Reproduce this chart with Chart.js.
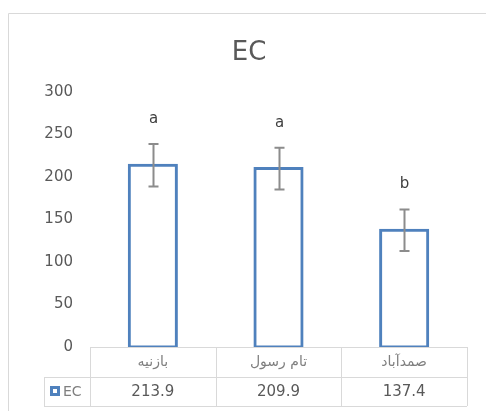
<!DOCTYPE html>
<html>
<head>
<meta charset="utf-8">
<script src="https://cdn.jsdelivr.net/npm/chart.js@4/dist/chart.umd.min.js"></script>
<style>
  body { margin: 0; background: #fff; }
  canvas { display: block; }
</style>
</head>
<body>
<canvas id="ecChart" width="486" height="411"></canvas>
<script>
const categories = ['بازنیه', 'تام رسول', 'صمدآباد'];
const ecValues = [213.9, 209.9, 137.4];
const ecErrors = [25, 24.5, 24.5];
const groupLetters = ['a', 'a', 'b'];
const seriesName = 'EC';

const BLUE = '#4f81bd';
const GRID = '#d9d9d9';
const FONT = 'DejaVu Sans';

// error bars, letters, data table and frame drawn after the bars
const extras = {
  id: 'extras',
  afterDatasetsDraw(chart) {
    const ctx = chart.ctx;
    const x = chart.scales.x;
    const y = chart.scales.y;
    const area = chart.chartArea;
    const colW = (area.right - area.left) / categories.length;

    ctx.save();

    // outer frame
    ctx.strokeStyle = GRID;
    ctx.lineWidth = 1;
    ctx.beginPath();
    ctx.moveTo(8.5, 411);
    ctx.lineTo(8.5, 13.5);
    ctx.lineTo(486, 13.5);
    ctx.stroke();

    // title
    ctx.fillStyle = '#595959';
    ctx.font = '26px ' + FONT;
    ctx.textAlign = 'center';
    ctx.textBaseline = 'alphabetic';
    ctx.fillText(seriesName, 249, 60);

    // error bars + letters
    ecValues.forEach((v, i) => {
      const cx = Math.round(x.getPixelForValue(i)) + 0.5;
      const top = y.getPixelForValue(v + ecErrors[i]);
      const bot = y.getPixelForValue(v - ecErrors[i]);
      ctx.strokeStyle = '#8c8c8c';
      ctx.lineWidth = 2;
      ctx.beginPath();
      ctx.moveTo(cx, top); ctx.lineTo(cx, bot);
      ctx.moveTo(cx - 5, top); ctx.lineTo(cx + 5, top);
      ctx.moveTo(cx - 5, bot); ctx.lineTo(cx + 5, bot);
      ctx.stroke();

      ctx.fillStyle = '#404040';
      ctx.font = '15px ' + FONT;
      ctx.textAlign = 'center';
      ctx.textBaseline = 'alphabetic';
      ctx.fillText(groupLetters[i], cx, top - 21);
    });

    // data table
    const t0 = area.bottom;
    const t1 = t0 + 30;
    const t2 = t1 + 29;
    ctx.strokeStyle = GRID;
    ctx.lineWidth = 1;
    ctx.beginPath();
    ctx.moveTo(area.left, t0 + 0.5); ctx.lineTo(area.right, t0 + 0.5);
    ctx.moveTo(44, t1 + 0.5); ctx.lineTo(area.right, t1 + 0.5);
    ctx.moveTo(44, t2 + 0.5); ctx.lineTo(area.right, t2 + 0.5);
    ctx.moveTo(44.5, t1); ctx.lineTo(44.5, t2);
    for (let i = 0; i <= categories.length; i++) {
      const lx = Math.round(area.left + i * colW) + 0.5;
      ctx.moveTo(lx, t0); ctx.lineTo(lx, t2);
    }
    ctx.stroke();

    ctx.textAlign = 'center';
    ctx.textBaseline = 'middle';
    categories.forEach((c, i) => {
      const cx = x.getPixelForValue(i);
      ctx.fillStyle = '#7f7f7f';
      ctx.font = '14px ' + FONT;
      ctx.fillText(c, cx, (t0 + t1) / 2);
      ctx.fillStyle = '#595959';
      ctx.font = '15px ' + FONT;
      ctx.fillText(ecValues[i].toFixed(1), cx, (t1 + t2) / 2 + 1);
    });

    // legend key
    ctx.fillStyle = BLUE;
    ctx.fillRect(50, 386, 10, 10);
    ctx.fillStyle = '#ffffff';
    ctx.fillRect(53, 389, 4, 4);
    ctx.fillStyle = '#7f7f7f';
    ctx.font = '14px ' + FONT;
    ctx.textAlign = 'left';
    ctx.fillText(seriesName, 63, (t1 + t2) / 2 + 1);

    ctx.restore();
  }
};

new Chart(document.getElementById('ecChart'), {
  type: 'bar',
  data: {
    labels: categories,
    datasets: [{
      label: seriesName,
      data: ecValues,
      backgroundColor: '#ffffff',
      borderColor: BLUE,
      borderWidth: 3,
      borderSkipped: false,
      inflateAmount: 1.5,
      categoryPercentage: 1,
      barPercentage: 0.375
    }]
  },
  options: {
    responsive: false,
    animation: false,
    layout: { padding: { left: 8, right: 19, top: 92, bottom: 64 } },
    plugins: { legend: { display: false }, tooltip: { enabled: false } },
    scales: {
      x: { display: false },
      y: {
        min: 0,
        max: 300,
        grid: { display: false, drawTicks: false },
        border: { display: false },
        ticks: {
          stepSize: 50,
          padding: 17,
          color: '#595959',
          font: { family: FONT, size: 15 }
        },
        afterFit(axis) { axis.width = 82; }
      }
    }
  },
  plugins: [extras]
});
</script>
</body>
</html>
